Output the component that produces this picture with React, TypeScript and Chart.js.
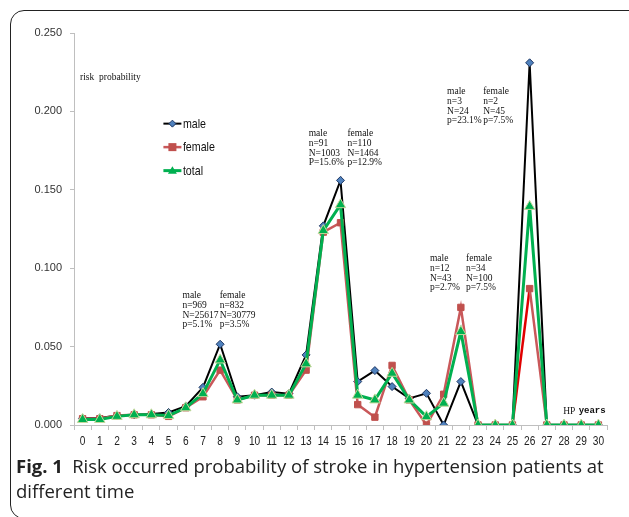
import React, { useEffect, useRef } from "react";
import { Chart, registerables } from "chart.js";

Chart.register(...registerables);

const categories = ["0","1","2","3","4","5","6","7","8","9","10","11","12","13","14","15","16","17","18","19","20","21","22","23","24","25","26","27","28","29","30"];

const maleValues = [0.0043,0.0045,0.006,0.0065,0.007,0.008,0.012,0.024,0.0515,0.018,0.019,0.021,0.020,0.0447,0.127,0.156,0.0277,0.0347,0.0245,0.017,0.0202,0,0.0277,0,0,0,0.231,0,0,0,0];
const femaleValues = [0.004,0.004,0.006,0.0065,0.0065,0.0055,0.011,0.018,0.035,0.016,0.019,0.019,0.019,0.035,0.123,0.129,0.013,0.005,0.038,0.016,0,0.0196,0.075,0,0,0,0.087,0,0,0,0];
const totalValues = [0.0035,0.0035,0.0055,0.0065,0.0065,0.006,0.011,0.020,0.0415,0.016,0.019,0.019,0.019,0.039,0.124,0.1405,0.019,0.016,0.033,0.016,0.0053,0.0139,0.0596,0,0,0,0.1394,0,0,0,0];

const seriesNames = ["male", "female", "total"];
const yTickValues = [0, 0.05, 0.1, 0.15, 0.2, 0.25];

const note8Male = ["male", "n=969", "N=25617", "p=5.1%"];
const note8Female = ["female", "n=832", "N=30779", "p=3.5%"];
const note15Male = ["male", "n=91", "N=1003", "P=15.6%"];
const note15Female = ["female", "n=110", "N=1464", "p=12.9%"];
const note26Male = ["male", "n=3", "N=24", "p=23.1%"];
const note26Female = ["female", "n=2", "N=45", "p=7.5%"];
const note22Male = ["male", "n=12", "N=43", "p=2.7%"];
const note22Female = ["female", "n=34", "N=100", "p=7.5%"];
const yAxisTitle = "risk  probability";
const xAxisTitleA = "HP";
const xAxisTitleB = "years";
const captionBold = "Fig. 1";
const captionLine1 = "Risk occurred probability of stroke in hypertension patients at";
const captionLine2 = "different time";

const MALE_LINE = "#000000";
const MALE_FILL = "#4f81bd";
const FEMALE_LINE = "#c9585a";
const FEMALE_FILL = "#c0504d";
const TOTAL_LINE = "#00b050";
const TOTAL_BORDER = "#c4d79b";

function drawDiamond(ctx: CanvasRenderingContext2D, cx: number, cy: number, r: number) {
  ctx.beginPath();
  ctx.moveTo(cx, cy - r);
  ctx.lineTo(cx + r, cy);
  ctx.lineTo(cx, cy + r);
  ctx.lineTo(cx - r, cy);
  ctx.closePath();
  ctx.fillStyle = MALE_FILL;
  ctx.fill();
  ctx.strokeStyle = "#1f3864";
  ctx.lineWidth = 1;
  ctx.stroke();
}
function drawSquare(ctx: CanvasRenderingContext2D, cx: number, cy: number, r: number) {
  ctx.fillStyle = FEMALE_FILL;
  ctx.fillRect(cx - r, cy - r, 2 * r, 2 * r);
}
function drawTriangle(ctx: CanvasRenderingContext2D, cx: number, cy: number, r: number) {
  ctx.beginPath();
  ctx.moveTo(cx, cy - r);
  ctx.lineTo(cx + r, cy + r * 0.7);
  ctx.lineTo(cx - r, cy + r * 0.7);
  ctx.closePath();
  ctx.fillStyle = TOTAL_LINE;
  ctx.fill();
}

function narrowText(ctx: CanvasRenderingContext2D, text: string, x: number, y: number, sx: number) {
  ctx.save();
  ctx.translate(x, y);
  ctx.scale(sx, 1);
  ctx.fillText(text, 0, 0);
  ctx.restore();
}

const notesPlugin = {
  id: "notes",
  afterDraw(chart: any) {
    const { ctx, scales } = chart;
    const xs = scales.x;
    const ys = scales.y;
    const px = (v: number) => xs.getPixelForValue(v);
    const py = (v: number) => ys.getPixelForValue(v);
    ctx.save();

    // category labels (condensed)
    ctx.fillStyle = "#222";
    ctx.textAlign = "center";
    ctx.textBaseline = "middle";
    ctx.font = '13px "Liberation Sans", Arial, sans-serif';
    categories.forEach((c, i) => narrowText(ctx, c, px(i), ys.bottom + 16, 0.78));

    ctx.fillStyle = "#111";
    ctx.textAlign = "left";
    ctx.textBaseline = "middle";
    ctx.font = '9.5px "Liberation Serif", serif';
    const blocks: [string[], number, number][] = [
      [note8Male, 5.81, 0.0824],
      [note8Female, 7.97, 0.0824],
      [note15Male, 13.15, 0.1858],
      [note15Female, 15.4, 0.1858],
      [note26Male, 21.2, 0.2126],
      [note26Female, 23.3, 0.2126],
      [note22Male, 20.2, 0.106],
      [note22Female, 22.3, 0.106],
    ];
    blocks.forEach(([lines, bx, by]) => {
      lines.forEach((t, i) => ctx.fillText(t, px(bx), py(by) + i * 9.7));
    });
    ctx.fillText(yAxisTitle, px(-0.15), py(0.2216));
    ctx.fillText(xAxisTitleA, px(27.95), py(0.0089));
    ctx.font = 'bold 9px "Liberation Mono", monospace';
    ctx.fillText(xAxisTitleB, px(28.85), py(0.0089));

    // legend
    const lx = px(4.7);
    const ly0 = py(0.1922);
    const rowGap = 23.5;
    const lineColors = [MALE_LINE, FEMALE_LINE, TOTAL_LINE];
    const lineWidths = [2, 2.5, 3];
    ctx.font = '13px "Liberation Sans", Arial, sans-serif';
    seriesNames.forEach((name, i) => {
      const yy = ly0 + i * rowGap;
      ctx.strokeStyle = lineColors[i];
      ctx.lineWidth = lineWidths[i];
      ctx.beginPath();
      ctx.moveTo(lx, yy);
      ctx.lineTo(lx + 18, yy);
      ctx.stroke();
      if (i === 0) drawDiamond(ctx, lx + 9, yy, 3.5);
      if (i === 1) drawSquare(ctx, lx + 9, yy, 4);
      if (i === 2) drawTriangle(ctx, lx + 9, yy, 4.5);
      ctx.fillStyle = "#111";
      narrowText(ctx, name, lx + 19.5, yy + 0.5, 0.82);
    });
    ctx.restore();
  },
};

export default function App() {
  const canvasRef = useRef<HTMLCanvasElement | null>(null);

  useEffect(() => {
    if (!canvasRef.current) return;
    const chart = new Chart(canvasRef.current, {
      type: "line",
      data: {
        labels: categories,
        datasets: [
          {
            label: seriesNames[0],
            data: maleValues,
            borderColor: MALE_LINE,
            borderWidth: 2,
            pointStyle: "rectRot",
            pointRadius: 4,
            pointBackgroundColor: MALE_FILL,
            pointBorderColor: "#1f3864",
            pointBorderWidth: 1,
            tension: 0,
            order: 3,
          },
          {
            label: seriesNames[1],
            data: femaleValues,
            borderColor: FEMALE_LINE,
            borderWidth: 2.5,
            pointStyle: "rect",
            pointRadius: 4.5,
            pointBackgroundColor: FEMALE_FILL,
            pointBorderColor: FEMALE_FILL,
            pointBorderWidth: 1,
            tension: 0,
            order: 2,
            segment: {
              borderColor: (c: any) => (c.p0DataIndex === 25 ? "#e00000" : FEMALE_LINE),
            },
          },
          {
            label: seriesNames[2],
            data: totalValues,
            borderColor: TOTAL_LINE,
            borderWidth: 3,
            pointStyle: "triangle",
            pointRadius: 6,
            pointBackgroundColor: TOTAL_LINE,
            pointBorderColor: TOTAL_BORDER,
            pointBorderWidth: 1,
            tension: 0,
            order: 1,
          },
        ],
      },
      options: {
        responsive: false,
        animation: false,
        events: [],
        layout: { padding: { left: 0, right: 22, top: 33, bottom: 5 } },
        plugins: {
          legend: { display: false },
          tooltip: { enabled: false },
        },
        scales: {
          x: {
            type: "category",
            offset: true,
            grid: {
              offset: true,
              drawOnChartArea: false,
              drawTicks: true,
              tickLength: 5,
              color: "#bfbfbf",
            },
            border: { color: "#bfbfbf", width: 1 },
            ticks: {
              display: false,
              autoSkip: false,
              maxRotation: 0,
              minRotation: 0,
            },
            afterFit: (s: any) => {
              s.height = 30;
            },
          },
          y: {
            min: 0,
            max: 0.25,
            afterBuildTicks: (s: any) => {
              s.ticks = yTickValues.map((v) => ({ value: v }));
            },
            grid: {
              drawOnChartArea: false,
              drawTicks: true,
              tickLength: 4,
              color: "#bfbfbf",
            },
            border: { color: "#bfbfbf", width: 1 },
            ticks: {
              padding: 8,
              color: "#333",
              font: { family: '"Liberation Sans", Arial, sans-serif', size: 11 },
              callback: (v: any) => Number(v).toFixed(3),
            },
            afterFit: (s: any) => {
              s.width = 74;
            },
          },
        },
      },
      plugins: [notesPlugin],
    });
    return () => chart.destroy();
  }, []);

  return (
    <div
      style={{
        position: "fixed",
        left: 0,
        top: 0,
        width: 629,
        height: 517,
        overflow: "hidden",
        background: "#fff",
      }}
    >
      <div
        style={{
          position: "absolute",
          left: 10,
          top: 10,
          width: 680,
          height: 509,
          boxSizing: "border-box",
          border: "1.5px solid #222",
          borderRadius: 14,
        }}
      />
      <canvas
        ref={canvasRef}
        width={629}
        height={460}
        style={{ position: "absolute", left: 0, top: 0, width: 629, height: 460 }}
      />
      <div
        style={{
          position: "absolute",
          left: 16,
          top: 453,
          fontFamily: '"Open Sans", "Noto Sans", sans-serif',
          fontSize: 18.5,
          lineHeight: "25px",
          color: "#222",
          whiteSpace: "nowrap",
        }}
      >
        <span style={{ fontWeight: 700 }}>{captionBold}</span>
        {"\u2002" + captionLine1}
        <br />
        {captionLine2}
      </div>
    </div>
  );
}
